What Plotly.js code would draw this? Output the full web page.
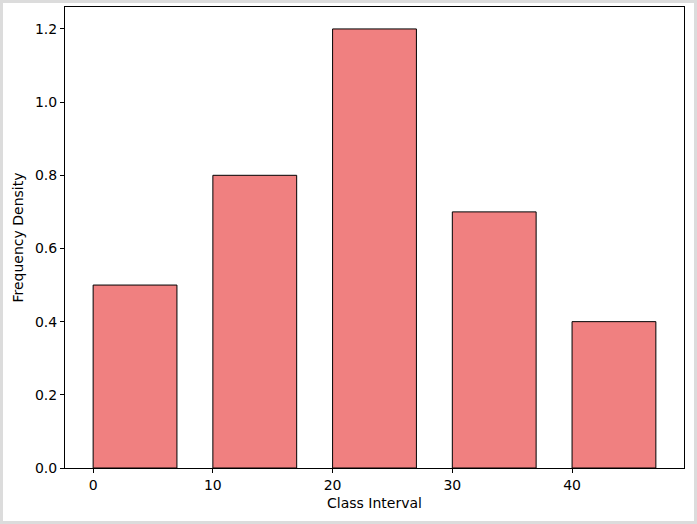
<!DOCTYPE html>
<html>
<head>
<meta charset="utf-8">
<script src="https://cdn.plot.ly/plotly-3.0.1.min.js"></script>
<style>
  html, body { margin: 0; padding: 0; background: #dcdcdc; }
  #chart { position: absolute; left: 3px; top: 3px; width: 691px; height: 518px; background: #fff; }
</style>
</head>
<body>
<div id="chart"></div>
<script>
"use strict"
// class interval starts and their frequency density
let class_start = [0, 10, 20, 30, 40];
let freq_density = [0.5, 0.8, 1.2, 0.7, 0.4];
let bar_width = 7;

let font_base = { family: "DejaVu Sans, sans-serif", size: 14, color: "#000" };

let data = [{
    type: "bar",
    x: class_start,
    y: freq_density,
    width: bar_width,
    offset: 0,
    marker: { color: "#f08080", line: { color: "#000", width: 1 } },
    hoverinfo: "x+y"
}];

let axis_common = {
    showline: true,
    linecolor: "#000",
    linewidth: 1,
    mirror: true,
    showgrid: false,
    zeroline: false,
    ticks: "outside",
    ticklen: 4,
    tickwidth: 1,
    tickcolor: "#000",
    tickfont: font_base
};

let layout = {
    width: 691,
    height: 518,
    margin: { l: 62, r: 10, t: 4, b: 53 },
    paper_bgcolor: "#fff",
    plot_bgcolor: "#fff",
    font: font_base,
    showlegend: false,
    bargap: 0,
    xaxis: Object.assign({}, axis_common, {
        range: [-2.35, 49.35],
        tickmode: "linear",
        tick0: 0,
        dtick: 10,
        title: { text: "Class Interval", font: font_base, standoff: 6 }
    }),
    yaxis: Object.assign({}, axis_common, {
        range: [0, 1.26],
        tickmode: "linear",
        tick0: 0,
        dtick: 0.2,
        tickformat: ".1f",
        title: { text: "Frequency Density", font: font_base, standoff: 8 }
    })
};

Plotly.newPlot("chart", data, layout, { displayModeBar: false, staticPlot: true });
</script>
</body>
</html>
